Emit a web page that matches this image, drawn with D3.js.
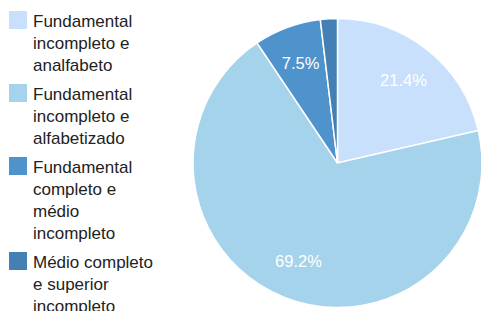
<!DOCTYPE html>
<html>
<head>
<meta charset="utf-8">
<script src="https://cdn.jsdelivr.net/npm/d3@7"></script>
<style>
  body { margin: 0; background: #fff; }
  svg { display: block; }
</style>
</head>
<body>
<div id="chart"></div>
<script>
// data
var categories = [
    ['Fundamental', 'incompleto e', 'analfabeto'],
    ['Fundamental', 'incompleto e', 'alfabetizado'],
    ['Fundamental', 'completo e', 'médio', 'incompleto'],
    ['Médio completo', 'e superior', 'incompleto']
];
var values = [21.4, 69.2, 7.5, 1.9];
var colors = ['#c9e0fc', '#a5d3ec', '#4f93cd', '#4480b3'];

var width = 481, height = 311;
var cx = 337.5, cy = 163, radius = 144.5;

var svg = d3.select('#chart').append('svg')
    .attr('width', width).attr('height', height);

// pie
var pie = d3.pie().sort(null).value(function(d) { return d; });
var arc = d3.arc().innerRadius(0).outerRadius(radius);
var labelArc = d3.arc().innerRadius(106).outerRadius(106);

var slices = svg.append('g')
    .attr('transform', 'translate(' + cx + ',' + cy + ')')
    .selectAll('g')
    .data(pie(values)).enter().append('g');

slices.append('path')
    .attr('d', arc)
    .attr('fill', function(d, i) { return colors[i]; })
    .attr('stroke', '#fff')
    .attr('stroke-width', 1.5);

// percent labels, skip tiny slices
slices.filter(function(d) { return d.data >= 5; })
    .append('text')
    .attr('transform', function(d) { return 'translate(' + labelArc.centroid(d) + ')'; })
    .attr('text-anchor', 'middle')
    .attr('dy', '0.35em')
    .attr('fill', '#fff')
    .attr('font-family', 'Liberation Sans, Arial, sans-serif')
    .attr('font-size', '16.5px')
    .text(function(d) { return d.data.toFixed(1) + '%'; });

// legend
var lineH = 22;
var legendY = [11, 84, 157, 252];
var legend = svg.selectAll('.legend')
    .data(categories).enter().append('g')
    .attr('class', 'legend')
    .attr('transform', function(d, i) { return 'translate(9,' + legendY[i] + ')'; });

legend.append('rect')
    .attr('width', 18).attr('height', 18)
    .attr('fill', function(d, i) { return colors[i]; });

legend.append('text')
    .attr('x', 24).attr('y', 15.5)
    .attr('fill', '#222')
    .attr('font-family', 'Liberation Sans, Arial, sans-serif')
    .attr('font-size', '17px')
    .selectAll('tspan')
    .data(function(d) { return d; }).enter().append('tspan')
    .attr('x', 24)
    .attr('dy', function(d, i) { return i === 0 ? 0 : lineH; })
    .text(function(d) { return d; });
</script>
</body>
</html>
